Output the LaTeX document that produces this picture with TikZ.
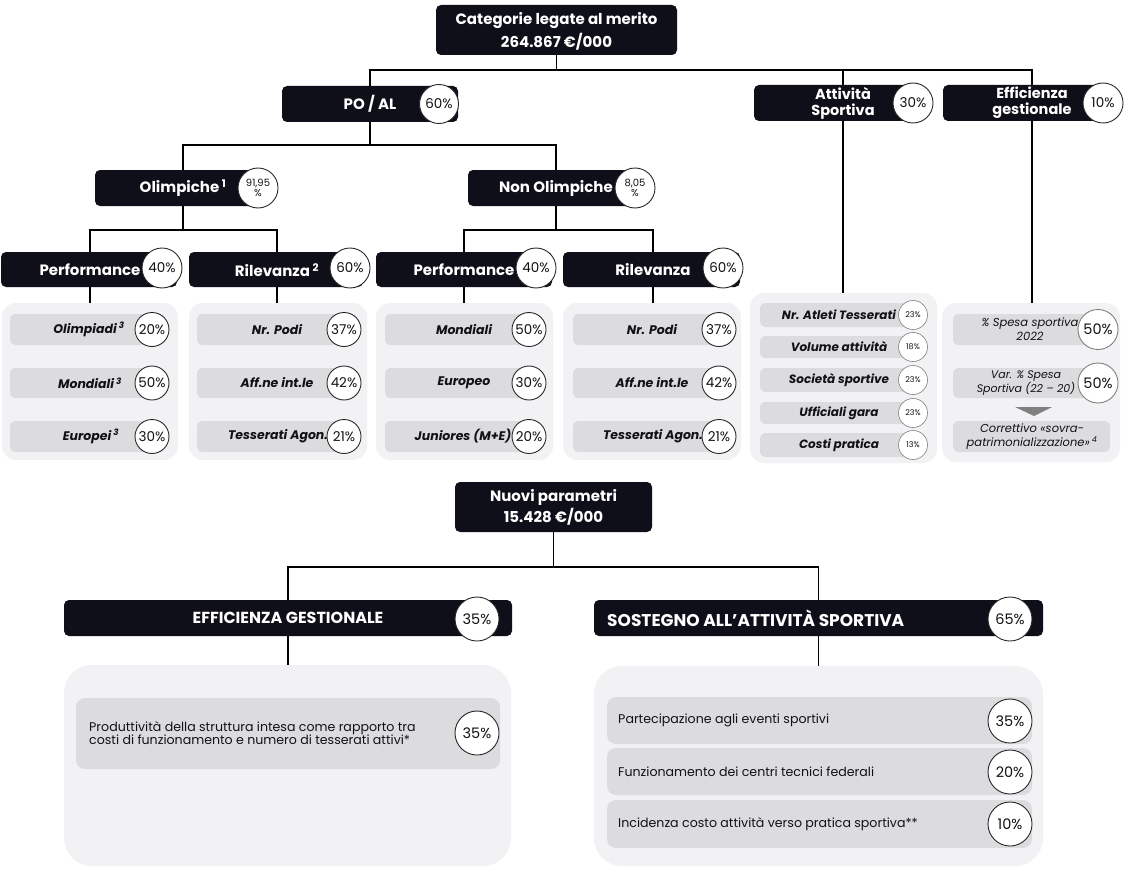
\documentclass[tikz,border=0pt]{standalone}
\usepackage{fontspec}
\setmainfont{Poppins}
\usetikzlibrary{backgrounds}
\definecolor{navy}{RGB}{14,15,25}
\definecolor{contgray}{RGB}{242,242,244}
\definecolor{bargray}{RGB}{220,220,222}
\definecolor{ring}{RGB}{40,40,40}
\definecolor{ink}{RGB}{18,18,22}
\definecolor{tri}{RGB}{128,128,128}
\newcommand\fsz[2]{\fontsize{#1pt}{#2pt}\selectfont}
\newcommand\rbox[6]{\node[#2, minimum width={#5-#3}, minimum height={#6-#4}] (#1) at ({(#3+#5)/2},{(#4+#6)/2}) {};}
\begin{document}
\begin{tikzpicture}[x=1pt,y=-1pt,
  dk/.style={fill=navy, rounded corners=5pt, inner sep=0pt},
  ht/.style={text=white, font=\bfseries\fsz{15}{23}, align=center, inner sep=0pt},
  hs/.style={ht, font=\bfseries\fsz{14.5}{16}},
  pc/.style={circle, draw=ring, fill=white, line width=0.9pt, inner sep=0pt, text=ink, font=\fsz{13.5}{14}, align=center},
  pcs/.style={pc, font=\fsz{8}{9}, line width=0.6pt, draw=gray},
  ct/.style={fill=contgray, rounded corners=14pt, inner sep=0pt},
  ctb/.style={fill=contgray, rounded corners=28pt, inner sep=0pt},
  br/.style={fill=bargray, rounded corners=5pt, inner sep=0pt},
  brb/.style={fill=bargray, rounded corners=9pt, inner sep=0pt},
  it/.style={font=\bfseries\itshape\fsz{12.5}{14}, text=ink, inner sep=0pt, align=center},
  itm/.style={it, font=\bfseries\itshape\fsz{12}{14}},
  its/.style={font=\itshape\fsz{11.5}{14}, text=ink, inner sep=0pt, align=center},
  bt/.style={font=\fsz{12.6}{13.5}, text=ink, inner sep=0pt, align=left, anchor=west},
  ln/.style={line width=1.1pt, draw=black}]
\useasboundingbox (0,0) rectangle (1135,880);
\pgfdeclarelayer{bg}\pgfsetlayers{bg,main}

% ---- containers
\rbox{c1}{ct}{2}{303}{178}{460}
\rbox{c2}{ct}{189}{303}{367}{460}
\rbox{c3}{ct}{376}{303}{553}{460}
\rbox{c4}{ct}{563}{303}{741}{460}
\rbox{c5}{ct}{750}{293}{937}{463}
\rbox{c6}{ct}{942}{303}{1120}{462}
\rbox{c7}{ctb}{64}{665}{511}{866}
\rbox{c8}{ctb}{594}{666}{1043}{866}

% ---- bars C1
\rbox{b11}{br}{10}{314}{152}{345}
\rbox{b12}{br}{10}{368}{152}{398}
\rbox{b13}{br}{10}{421}{152}{452}
\node[it] (t11) at (89,329.5) {Olimpiadi\,\textsuperscript{3}};
\node[it] (t12) at (90,383) {Mondiali\,\textsuperscript{3}};
\node[it] (t13) at (91,436.5) {Europei\,\textsuperscript{3}};
\node[pc, minimum size=34] (p11) at (152,329.5) {20\%};
\node[pc, minimum size=34] (p12) at (152,383) {50\%};
\node[pc, minimum size=34] (p13) at (152,436.5) {30\%};
% ---- bars C2
\rbox{b21}{br}{197}{314}{344}{345}
\rbox{b22}{br}{197}{368}{344}{398}
\rbox{b23}{br}{197}{421}{344}{452}
\node[it] (t21) at (277,329.5) {Nr. Podi};
\node[it] (t22) at (277,383) {Aff.ne int.le};
\node[it] (t23) at (278,436.5) {Tesserati Agon.};
\node[pc, minimum size=34] (p21) at (344,329.5) {37\%};
\node[pc, minimum size=34] (p22) at (344,383) {42\%};
\node[pc, minimum size=34] (p23) at (344,436.5) {21\%};
% ---- bars C3
\rbox{b31}{br}{385}{314}{529}{345}
\rbox{b32}{br}{385}{368}{529}{398}
\rbox{b33}{br}{385}{421}{529}{452}
\node[it] (t31) at (464,329.5) {Mondiali};
\node[it] (t32) at (464,383) {Europeo};
\node[it] (t33) at (463,436.5) {Juniores (M+E)};
\node[pc, minimum size=34] (p31) at (529,329.5) {50\%};
\node[pc, minimum size=34] (p32) at (529,383) {30\%};
\node[pc, minimum size=34] (p33) at (529,436.5) {20\%};
% ---- bars C4
\rbox{b41}{br}{573}{314}{719}{345}
\rbox{b42}{br}{573}{368}{719}{398}
\rbox{b43}{br}{573}{421}{719}{452}
\node[it] (t41) at (652,329.5) {Nr. Podi};
\node[it] (t42) at (652,383) {Aff.ne int.le};
\node[it] (t43) at (653,436.5) {Tesserati Agon.};
\node[pc, minimum size=34] (p41) at (719,329.5) {37\%};
\node[pc, minimum size=34] (p42) at (719,383) {42\%};
\node[pc, minimum size=34] (p43) at (719,436.5) {21\%};
% ---- bars C5
\rbox{b51}{br}{760}{303}{913}{327}
\rbox{b52}{br}{760}{336}{913}{358}
\rbox{b53}{br}{760}{368}{913}{392}
\rbox{b54}{br}{760}{402}{913}{424}
\rbox{b55}{br}{760}{433}{913}{457}
\node[itm] (t51) at (839,315) {Nr. Atleti Tesserati};
\node[itm] (t52) at (839,347) {Volume attività};
\node[itm] (t53) at (839,380) {Società sportive};
\node[itm] (t54) at (839,413) {Ufficiali gara};
\node[itm] (t55) at (839,445) {Costi pratica};
\node[pcs, minimum size=29] (p51) at (913,315) {23\%};
\node[pcs, minimum size=29] (p52) at (913,347) {18\%};
\node[pcs, minimum size=29] (p53) at (913,380) {23\%};
\node[pcs, minimum size=29] (p54) at (913,413) {23\%};
\node[pcs, minimum size=29] (p55) at (913,445) {13\%};
% ---- bars C6
\rbox{b61}{br}{953}{314}{1098}{345}
\rbox{b62}{br}{953}{368}{1098}{398}
\rbox{b63}{br}{953}{421}{1110}{452}
\node[its] (t61) at (1030,329.5) {\% Spesa sportiva\\2022};
\node[its, font=\itshape\fsz{11}{13.5}] (t62) at (1026,383) {Var. \% Spesa\\Sportiva (22 – 20)};
\node[its] (t63) at (1032,436.5) {Correttivo «sovra-\\patrimonializzazione»\,\textsuperscript{4}};
\node[pc, minimum size=40, font=\fsz{14.5}{15}, draw=gray] (p61) at (1098,329.5) {50\%};
\node[pc, minimum size=40, font=\fsz{14.5}{15}, draw=gray] (p62) at (1098,383) {50\%};
\fill[tri] (1015,407) -- (1052,407) -- (1034,416) -- cycle;

% ---- dark header boxes
\rbox{cat}{dk}{436}{5}{677}{55}
\rbox{poal}{dk}{282}{86}{458}{122}
\rbox{att}{dk}{754}{85}{925}{121}
\rbox{effg}{dk}{943}{85}{1115}{121}
\rbox{olim}{dk}{95}{170}{257}{206}
\rbox{nolim}{dk}{468}{170}{633}{206}
\rbox{perfa}{dk}{1}{252}{177}{287}
\rbox{rila}{dk}{189}{252}{363}{287}
\rbox{perfb}{dk}{376}{252}{552}{287}
\rbox{rilb}{dk}{563}{252}{740}{287}
\rbox{nuovi}{dk}{455}{482}{652}{532}
\rbox{effb}{dk}{64}{600}{512}{636}
\rbox{sost}{dk}{594}{600}{1043}{636}

\node[ht] (catt) at (556.5,31) {Categorie legate al merito\\264.867 €/000};
\node[ht] (poalt) at (370,104) {PO / AL};
\node[hs] (attt) at (843,103) {Attività\\Sportiva};
\node[hs] (effgt) at (1032,103) {Efficienza\\gestionale};
\node[ht] (olimt) at (183,188) {Olimpiche\,\textsuperscript{1}};
\node[ht] (nolimt) at (556,188) {Non Olimpiche};
\node[ht] (perfat) at (90,270) {Performance};
\node[ht] (rilat) at (277,270) {Rilevanza\,\textsuperscript{2}};
\node[ht] (perfbt) at (464,270) {Performance};
\node[ht] (rilbt) at (653,270) {Rilevanza};
\node[ht, font=\bfseries\fsz{15}{21}] (nuovit) at (553.5,507.5) {Nuovi parametri\\15.428 €/000};
\node[ht, font=\bfseries\fsz{16}{18}] (effbt) at (288,618) {EFFICIENZA GESTIONALE};
\node[ht, font=\bfseries\fsz{17}{19}, anchor=west] (sostt) at (607,618) {SOSTEGNO ALL’ATTIVITÀ SPORTIVA};

\node[pc, minimum size=39] (poalp) at (439,104) {60\%};
\node[pc, minimum size=40] (attp) at (913,103) {30\%};
\node[pc, minimum size=40] (effgp) at (1103,103) {10\%};
\node[pc, minimum size=40, font=\fsz{10}{10.5}] (olimp) at (258,188) {91,95\\\%};
\node[pc, minimum size=40, font=\fsz{10}{10.5}] (nolimp) at (635,188) {8,05\\\%};
\node[pc, minimum size=40] (perfap) at (162,268) {40\%};
\node[pc, minimum size=40] (rilap) at (350,268) {60\%};
\node[pc, minimum size=40] (perfbp) at (536,268) {40\%};
\node[pc, minimum size=40] (rilbp) at (723,268) {60\%};
\node[pc, minimum size=44, font=\fsz{14.5}{15}] (effbp) at (477,619) {35\%};
\node[pc, minimum size=44, font=\fsz{14.5}{15}] (sostp) at (1010,619) {65\%};

% ---- bottom bars
\rbox{b71}{brb}{76}{698}{500}{769}
\node[bt] (t71) at (89,733) {Produttività della struttura intesa come rapporto tra\\costi di funzionamento e numero di tesserati attivi*};
\node[pc, minimum size=44, font=\fsz{14.5}{15}] (p71) at (477,733) {35\%};
\rbox{b81}{brb}{607}{697}{1032}{744}
\rbox{b82}{brb}{607}{748}{1032}{795}
\rbox{b83}{brb}{607}{800}{1032}{848}
\node[bt] (t81) at (618,720.5) {Partecipazione agli eventi sportivi};
\node[bt] (t82) at (618,771.5) {Funzionamento dei centri tecnici federali};
\node[bt] (t83) at (618,824) {Incidenza costo attività verso pratica sportiva**};
\node[pc, minimum size=44, font=\fsz{14.5}{15}] (p81) at (1010,721) {35\%};
\node[pc, minimum size=44, font=\fsz{14.5}{15}] (p82) at (1010,772) {20\%};
\node[pc, minimum size=44, font=\fsz{14.5}{15}] (p83) at (1010,824) {10\%};

% ---- connectors
\begin{pgfonlayer}{bg}
\fill[white] (0,0) rectangle (1135,880);
\coordinate (j0) at (556,70);
\coordinate (j1) at (370,145);
\coordinate (j2) at (183,230);
\coordinate (j3) at (556,230);
\coordinate (j4) at (553.5,567);
\draw[ln] (cat.south) -- (cat.south |- j0);
\draw[ln] (poal.north -| poalt) -- (poalt |- j0) -| (c6.north -| effgt);
\draw[ln] (j0 -| attt) -- (c5.north -| attt);
\draw[ln] (poal.south -| poalt) -- (j1);
\draw[ln] (olim.north -| olimt) |- (j1) -| (nolim.north -| nolimt);
\draw[ln] (olim.south -| olimt) -- (j2);
\draw[ln] (perfa.north -| perfat) |- (j2) -| (rila.north -| rilat);
\draw[ln] (nolim.south -| nolimt) -- (j3);
\draw[ln] (perfb.north -| perfbt) |- (j3) -| (rilb.north -| rilbt);
\draw[ln] (perfa.south -| perfat) -- (c1.north -| perfat);
\draw[ln] (rila.south -| rilat) -- (c2.north -| rilat);
\draw[ln] (perfb.south -| perfbt) -- (c3.north -| perfbt);
\draw[ln] (rilb.south -| rilbt) -- (c4.north -| rilbt);
\draw[ln] (nuovi.south) -- (j4);
\draw[ln] (effb.north) |- (j4) -| (sost.north);
\draw[ln] (effb.south) -- (c7.north -| effb);
\draw[ln] (sost.south) -- (c8.north -| sost);
\end{pgfonlayer}
\end{tikzpicture}
\end{document}
